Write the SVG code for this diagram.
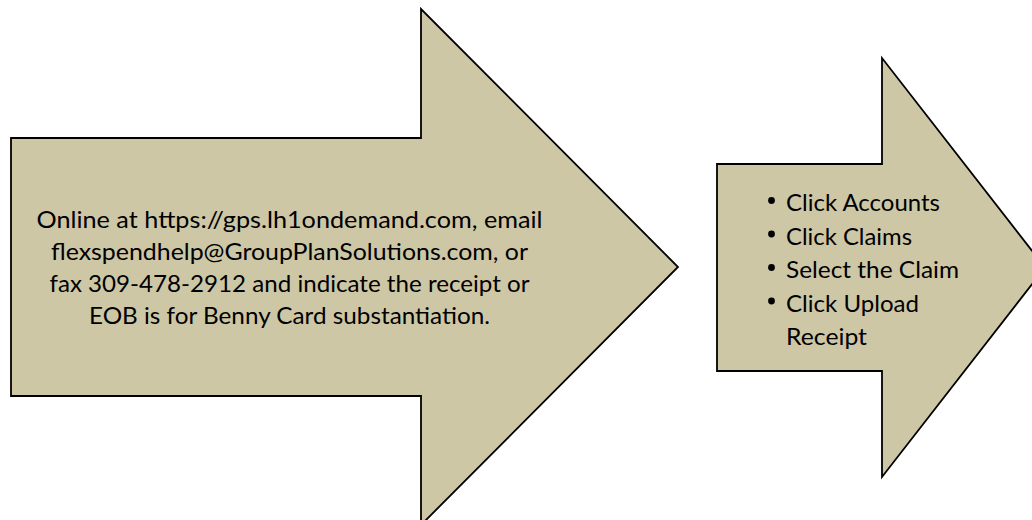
<svg xmlns="http://www.w3.org/2000/svg" width="1032" height="520" viewBox="0 0 1032 520">
  <style>
    .arrow { fill: #CEC7A6; stroke: #000000; stroke-width: 1.8; stroke-linejoin: miter; }
    .txt { font-family: Lato, "Open Sans", "Liberation Sans", sans-serif; font-size: 24px; fill: #000000; }
    .mid { text-anchor: middle; }
    .bullet { fill: #000000; }
  </style>
  <rect x="0" y="0" width="1032" height="520" fill="#FFFFFF"/>
  <g id="connectors"></g>
  <g id="arrow-submit">
    <polygon class="arrow" points="11,138 421,138 421,9 678,267 421,525 421,396 11,396"/>
    <text class="txt mid" x="289.5" y="228" textLength="506" lengthAdjust="spacingAndGlyphs">Online at https://gps.lh1ondemand.com, email</text>
    <text class="txt mid" x="289.5" y="260" textLength="477" lengthAdjust="spacingAndGlyphs">flexspendhelp@GroupPlanSolutions.com, or</text>
    <text class="txt mid" x="289.5" y="292" textLength="480" lengthAdjust="spacingAndGlyphs">fax 309-478-2912 and indicate the receipt or</text>
    <text class="txt mid" x="289.5" y="324" textLength="401" lengthAdjust="spacingAndGlyphs">EOB is for Benny Card substantiation.</text>
  </g>
  <g id="arrow-steps">
    <polygon class="arrow" points="717,164 882,164 882,58 1045,267.5 882,477 882,371 717,371"/>
    <circle class="bullet" cx="771.5" cy="200.5" r="3.4"/>
    <circle class="bullet" cx="771.5" cy="234" r="3.4"/>
    <circle class="bullet" cx="771.5" cy="267.5" r="3.4"/>
    <circle class="bullet" cx="771.5" cy="301" r="3.4"/>
    <text class="txt" x="786" y="211" textLength="154" lengthAdjust="spacingAndGlyphs">Click Accounts</text>
    <text class="txt" x="786" y="244.5" textLength="126" lengthAdjust="spacingAndGlyphs">Click Claims</text>
    <text class="txt" x="786" y="278" textLength="173" lengthAdjust="spacingAndGlyphs">Select the Claim</text>
    <text class="txt" x="786" y="311.5" textLength="133" lengthAdjust="spacingAndGlyphs">Click Upload</text>
    <text class="txt" x="786" y="345" textLength="81" lengthAdjust="spacingAndGlyphs">Receipt</text>
  </g>
</svg>
